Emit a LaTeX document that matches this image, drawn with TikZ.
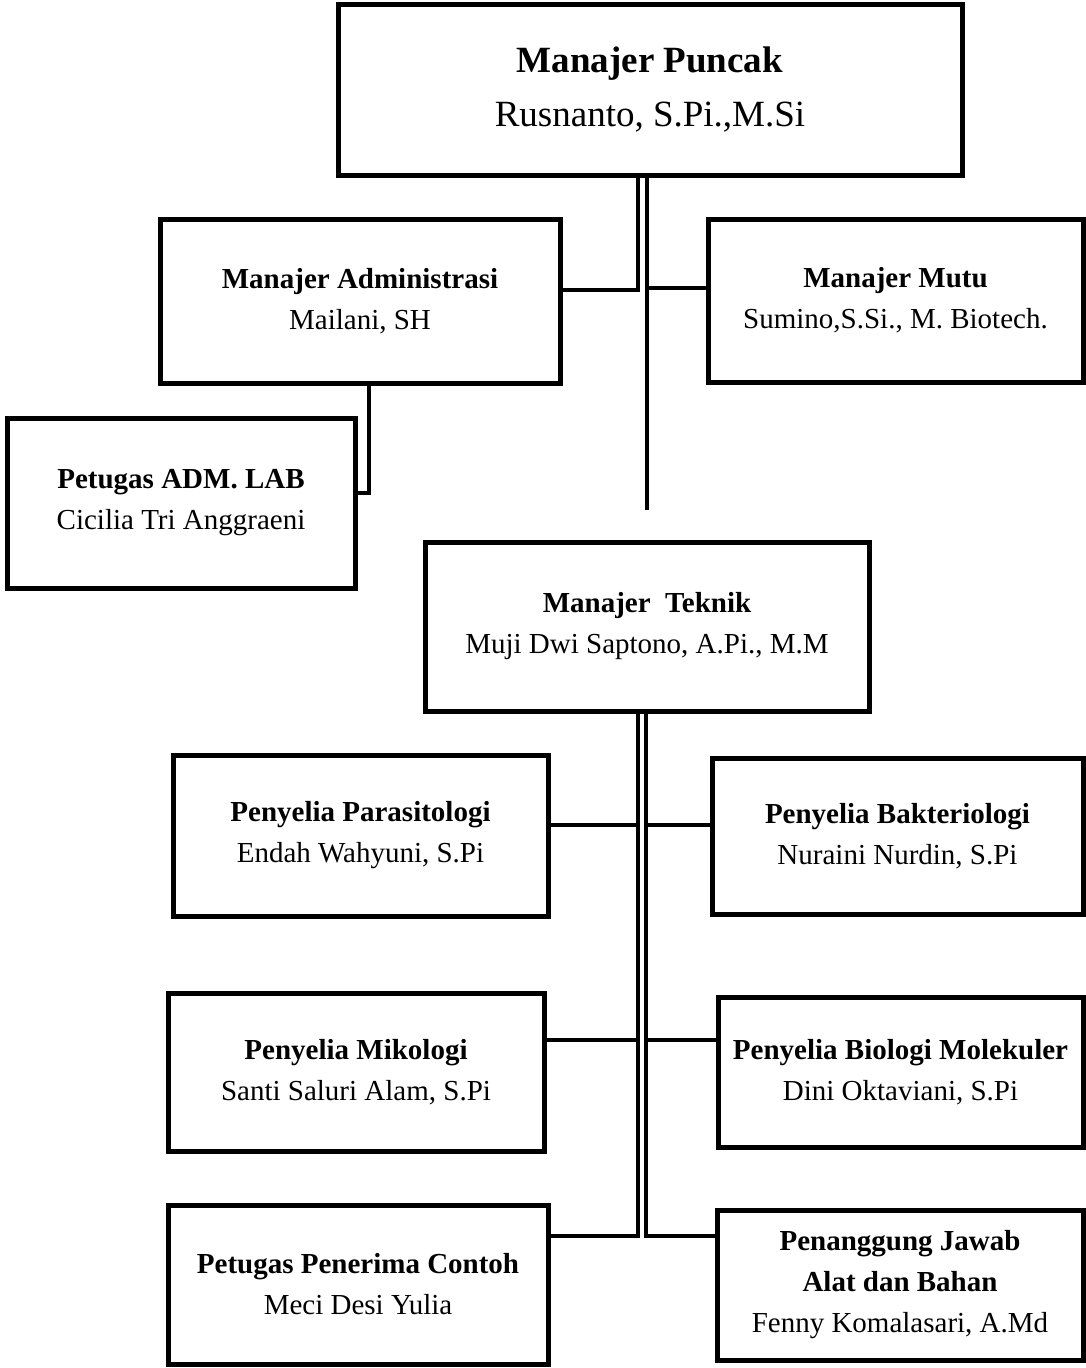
\documentclass[tikz,border=0pt]{standalone}
\usepackage{fontspec}
\setmainfont{Liberation Serif}
\begin{document}
\begin{tikzpicture}[x=1pt,y=-1pt,
  orgbox/.style={draw, line width=5pt, inner sep=0pt, align=center, font=\fontsize{29}{41}\selectfont},
  conn/.style={line width=4pt}]
\useasboundingbox (0,0) rectangle (1086,1368);

\node[orgbox, minimum width=624pt, minimum height=171pt, font=\fontsize{37}{54}\selectfont] (puncak) at (650,89.5) {\textbf{Manajer Puncak}\\Rusnanto, S.Pi.,M.Si};
\node[orgbox, minimum width=400pt, minimum height=164pt] (admin) at (360,301) {\textbf{Manajer Administrasi}\\Mailani, SH};
\node[orgbox, minimum width=375pt, minimum height=163pt] (mutu) at (895.5,300.5) {\textbf{Manajer Mutu}\\Sumino,S.Si., M. Biotech.};
\node[orgbox, minimum width=348pt, minimum height=170pt] (adm) at (181,503) {\textbf{Petugas ADM. LAB}\\Cicilia Tri Anggraeni};
\node[orgbox, minimum width=444pt, minimum height=169pt] (teknik) at (647,626.5) {\textbf{Manajer\ \ Teknik}\\Muji Dwi Saptono, A.Pi., M.M};
\node[orgbox, minimum width=375pt, minimum height=161pt] (paras) at (360.5,835.5) {\textbf{Penyelia Parasitologi}\\Endah Wahyuni, S.Pi};
\node[orgbox, minimum width=371pt, minimum height=156pt] (bakt) at (897.5,836) {\textbf{Penyelia Bakteriologi}\\Nuraini Nurdin, S.Pi};
\node[orgbox, minimum width=376pt, minimum height=158pt] (miko) at (356,1072) {\textbf{Penyelia Mikologi}\\Santi Saluri Alam, S.Pi};
\node[orgbox, minimum width=365pt, minimum height=150pt] (biomol) at (900.5,1072) {\textbf{Penyelia Biologi Molekuler}\\Dini Oktaviani, S.Pi};
\node[orgbox, minimum width=380pt, minimum height=159pt] (penerima) at (358,1284.5) {\textbf{Petugas Penerima Contoh}\\Meci Desi Yulia};
\node[orgbox, minimum width=366pt, minimum height=150pt] (pj) at (900,1285) {\textbf{Penanggung Jawab}\\\textbf{Alat dan Bahan}\\Fenny Komalasari, A.Md};

\coordinate (tl) at (638,290);
\coordinate (tr) at (647,288);
\coordinate (tend) at (647,510);
\draw[conn] (puncak.south -| tl) -- (tl) -- (admin.east |- tl);
\draw[conn] (puncak.south -| tend) -- (tend);
\draw[conn] (tr) -- (mutu.west |- tr);

\coordinate (ad) at (369,493);
\draw[conn] (admin.south -| ad) -- (ad) -- (adm.east |- ad);

\coordinate (k1) at (638,825);
\coordinate (k2) at (638,1040);
\coordinate (k3) at (638,1236);
\coordinate (m1) at (646,825);
\coordinate (m2) at (646,1040);
\coordinate (m3) at (646,1236);
\draw[conn] (teknik.south -| k3) -- (k3) -- (penerima.east |- k3);
\draw[conn] (k1) -- (paras.east |- k1);
\draw[conn] (k2) -- (miko.east |- k2);
\draw[conn] (teknik.south -| m3) -- (m3) -- (pj.west |- m3);
\draw[conn] (m1) -- (bakt.west |- m1);
\draw[conn] (m2) -- (biomol.west |- m2);
\end{tikzpicture}
\end{document}
